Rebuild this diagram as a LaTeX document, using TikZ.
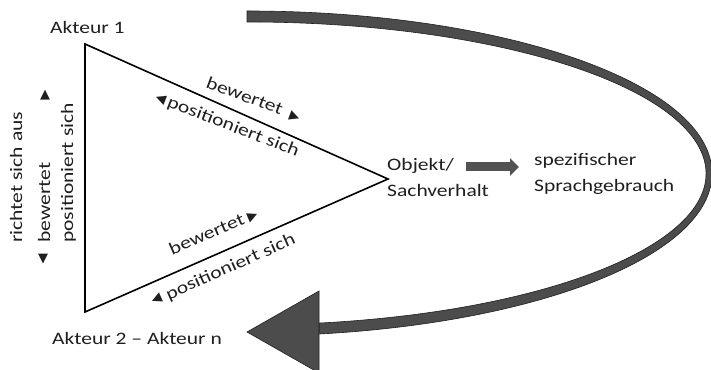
\documentclass[tikz,border=0pt]{standalone}
\usepackage{fontspec}
\setmainfont{Carlito}[FakeStretch=1.23]
\newfontfamily\symfont{DejaVu Sans}
\usetikzlibrary{arrows.meta,calc}
\newcommand{\mytriR}{{\symfont\fontsize{13}{13}\selectfont ▶}}
\newcommand{\mytriL}{\raisebox{2pt}{\symfont\fontsize{13}{13}\selectfont ◀}}
\begin{document}
\begin{tikzpicture}[x=1pt,y=1pt,
  font=\fontsize{17.5}{26}\selectfont,
  lbl/.style={inner sep=0pt, text=black!88},
  band/.style={fill=black!70, draw=black!88, line width=0.6pt},
  symb/.style={inner sep=0pt, text=black!88, font=\symfont\fontsize{13}{13}\selectfont}]
\useasboundingbox (0,0) rectangle (711,369);
% big curved arrow
\path[band] (247,358) arc[start angle=90, end angle=-81, x radius=465, y radius=162.5]
  -- (318.8,45.9) arc[start angle=-81, end angle=90, x radius=459, y radius=151.5] -- cycle;
\path[band] (247,37) -- (319,78) -- (319,-4) -- cycle;
% triangle
\coordinate (A1c) at (85,325);
\coordinate (A2c) at (85,57);
\coordinate (Oc) at (388,190);
\draw[line width=1.6pt] (A1c) -- (Oc) -- (A2c) -- cycle;
% texts
\node[lbl, anchor=base west] (akt1) at (50,335) {Akteur 1};
\node[lbl, anchor=base west] (akt2) at (52,24) {Akteur 2 – Akteur n};
\node[lbl, anchor=north west, align=left] (obj) at (387,211) {Objekt/\\Sachverhalt};
\node[lbl, anchor=north west, align=left] (spr) at (534,216) {spezifischer\\Sprachgebrauch};
% edge labels (upper edge)
\node[lbl, anchor=base west, rotate=-20.5] (bw1) at (205,282) {bewertet\hspace{9pt}\mytriR};
\node[lbl, anchor=base west, rotate=-21] (ps1) at (154,267) {\mytriL\hspace{3pt}positioniert sich};
% edge labels (lower edge)
\node[lbl, anchor=base west, rotate=23.5] (bw2) at (172,113.7) {bewertet\hspace{4pt}\mytriR};
\node[lbl, anchor=base west, rotate=24] (ps2) at (154,62.3) {\mytriL\hspace{6pt}positioniert sich};
% left vertical labels
\node[lbl, rotate=90, anchor=base west] (v1) at (22,126) {richtet sich aus};
\node[lbl, rotate=90, anchor=base west] (v2) at (50,126) {bewertet};
\node[lbl, rotate=90, anchor=base west] (v3) at (73,126) {positioniert sich};
\node[symb] (up) at (45,274) {▲};
\node[symb] (dn) at (43,110) {▼};
% small arrow
\coordinate (ms) at (466,202);
\coordinate (me) at (519,202);
\draw[line width=9pt, black!68, -{Triangle[length=9pt,width=17pt]}] (ms) -- (me);
\end{tikzpicture}
\end{document}
